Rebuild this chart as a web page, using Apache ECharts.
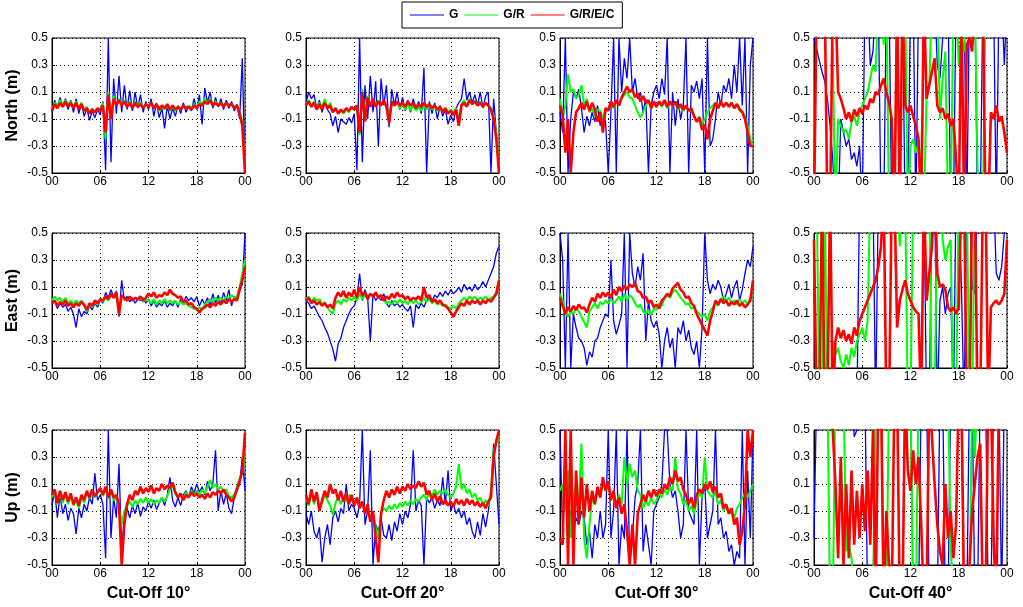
<!DOCTYPE html>
<html><head><meta charset="utf-8">
<script src="https://cdn.jsdelivr.net/npm/echarts@6/dist/echarts.min.js"></script>
<style>html,body{margin:0;padding:0;background:#fff}#c{width:1023px;height:607px}</style>
</head><body><div id="c"></div>
<script>
// ---- labels ----
const xTickLabels = ['00', '06', '12', '18', '00'];
const rowNames = ['North (m)', 'East (m)', 'Up (m)'];
const colTitles = ['Cut-Off 10°', 'Cut-Off 20°', 'Cut-Off 30°', 'Cut-Off 40°'];
const seriesNames = ['G', 'G/R', 'G/R/E/C'];
// samples every 20 minutes from 00:00 to 24:00 (73 samples), values in metres
const sampleStepHours = 1 / 3;

// ---- North ----
const north10_G    = [-0.05,0.04,-0.02,0.06,-0.01,0.05,-0.03,0.04,-0.05, 0.05,-0.06,0.02,-0.08,-0.02,-0.11,-0.04,-0.09,-0.03, -0.07,0.03,-0.48,0.5,-0.42,0.2,-0.06,0.22,-0.05, 0.15,-0.03,0.11,-0.04,0.1,-0.02,0.08,-0.05,0.03, -0.03,0.05,-0.08,0.02,-0.09,-0.02,-0.17,0.0,-0.1, -0.02,-0.08,0.0,-0.06,0.02,-0.05,0.0,-0.04,0.05, -0.03,0.08,-0.14,0.13,0.02,0.1,-0.02,0.06,-0.01, 0.05,-0.03,0.04,-0.02,0.03,-0.04,0.01,-0.1,0.35, -0.5];
const north10_GR   = [-0.03,0.02,0.0,0.04,0.0,0.04,0.01,0.03,-0.01, 0.03,-0.02,0.02,-0.04,-0.01,-0.06,-0.02,-0.05,-0.03, -0.03,0.02,-0.25,0.1,-0.08,0.07,0.0,0.05,0.01, 0.04,0.0,0.03,-0.01,0.03,0.0,0.02,-0.02,0.01, 0.0,0.02,-0.02,0.01,-0.04,-0.01,-0.03,0.0,-0.04, -0.01,-0.04,-0.01,-0.03,0.0,-0.02,0.0,-0.02,0.01, -0.01,0.03,0.01,0.05,0.02,0.05,0.01,0.03,0.01, 0.02,0.0,0.02,0.0,0.01,-0.01,0.0,-0.05,-0.12, -0.45];
const north10_GREC = [-0.04,0.01,-0.02,0.02,-0.01,0.03,-0.01,0.02,-0.02, 0.02,-0.03,0.01,-0.04,-0.02,-0.06,-0.03,-0.05,-0.02, -0.04,0.0,-0.2,0.08,-0.1,0.05,0.0,0.04,0.0, 0.03,-0.01,0.02,-0.02,0.02,-0.01,0.01,-0.02,0.01, -0.01,0.02,-0.02,0.01,-0.03,0.0,-0.02,0.01,-0.03, 0.0,-0.03,-0.01,-0.03,0.0,-0.02,-0.01,-0.03,0.0, -0.02,0.01,0.0,0.03,0.01,0.04,0.0,0.02,0.0, 0.02,-0.01,0.02,0.0,0.01,-0.02,0.0,-0.06,-0.15, -0.5];

const north20_G    = [0.02,0.1,0.05,0.08,-0.02,0.04,-0.05,0.03,-0.03, -0.06,-0.15,-0.08,-0.2,-0.1,-0.12,-0.14,-0.09,-0.13, -0.06,-0.48,0.5,-0.42,0.15,-0.1,0.22,-0.05,0.18, -0.3,0.2,0.0,0.15,-0.16,0.12,0.0,0.1,-0.03, 0.06,-0.04,0.04,-0.05,0.05,-0.02,0.03,-0.06,0.28, -0.5,0.03,-0.06,0.02,-0.1,0.0,-0.08,-0.03,-0.14, -0.07,-0.12,-0.02,0.02,0.05,0.2,0.04,0.1,0.02, 0.08,0.0,0.1,-0.02,0.07,0.1,-0.5,0.05,-0.2, -0.5];
const north20_GR   = [0.01,0.04,0.0,0.03,-0.02,0.02,-0.01,0.05,-0.02, 0.02,-0.04,-0.02,-0.06,-0.04,-0.06,-0.03,-0.05,-0.02, -0.03,0.0,-0.22,0.12,-0.1,0.07,0.0,0.05,0.0, 0.04,0.0,0.04,-0.01,-0.08,0.02,0.0,0.02,-0.02, 0.01,-0.03,0.01,-0.04,0.0,-0.04,-0.01,-0.04,0.0, -0.03,0.0,-0.03,-0.01,-0.04,-0.01,-0.04,-0.02,-0.05, -0.03,-0.05,-0.02,-0.1,0.01,0.04,0.0,0.05,0.01, 0.04,0.0,0.03,-0.01,0.02,0.0,-0.02,-0.08,-0.2, -0.45];
const north20_GREC = [0.0,0.03,-0.01,0.02,-0.03,0.01,-0.03,0.02,-0.02, 0.0,-0.05,-0.02,-0.06,-0.03,-0.05,-0.02,-0.04,-0.01, -0.03,0.0,-0.2,0.1,-0.12,0.06,-0.01,0.05,-0.01, 0.03,0.0,0.04,-0.01,-0.13,0.03,0.0,0.03,0.0, 0.02,-0.01,0.03,0.0,0.02,-0.02,0.01,-0.01,0.02, -0.01,0.01,-0.02,0.0,-0.03,-0.01,-0.05,-0.02,-0.06, -0.04,-0.07,-0.03,-0.15,0.0,0.02,-0.01,0.04,0.01, 0.03,0.0,0.02,-0.01,0.02,0.0,-0.03,-0.1,-0.25, -0.5];

const north30_G    = [-0.05,-0.2,0.5,-0.5,-0.1,0.1,0.05,0.12,-0.02, -0.2,-0.08,-0.15,-0.05,-0.12,0.0,-0.15,-0.08,-0.12, -0.5,-0.05,0.5,-0.5,0.5,0.1,0.35,0.2,0.5, 0.1,0.2,0.05,0.1,-0.05,0.05,-0.5,0.0,0.1, 0.15,0.05,0.2,0.08,0.5,-0.5,0.1,-0.15,0.05, -0.1,0.0,0.5,-0.5,0.15,0.1,0.18,0.05,0.2, -0.5,0.5,-0.3,-0.25,-0.1,0.1,0.0,0.15,0.1, 0.2,0.05,0.3,0.1,0.5,0.0,0.5,-0.5,0.3, 0.5];
const north30_GR   = [0.05,-0.1,0.0,0.23,0.1,0.12,0.05,0.08,0.15, 0.0,0.05,-0.05,-0.02,-0.08,-0.03,-0.04,-0.1,-0.02, -0.03,0.02,-0.02,0.03,0.0,0.05,0.08,0.1,0.06, 0.05,0.0,-0.05,-0.09,-0.05,0.0,0.03,-0.01,0.02, 0.0,0.03,-0.01,0.03,-0.02,0.02,0.0,0.02,-0.03, -0.01,-0.04,-0.01,-0.03,-0.04,-0.07,-0.12,-0.08,-0.14, -0.1,-0.05,-0.02,0.0,0.02,-0.02,0.03,-0.01,0.02, 0.0,0.02,-0.02,0.01,-0.02,-0.04,-0.08,-0.15,-0.25, -0.3];
const north30_GREC = [0.0,-0.06,-0.35,-0.1,-0.5,-0.2,-0.05,-0.02,0.02, -0.03,0.03,-0.04,0.02,-0.03,-0.12,-0.05,-0.2,-0.02, -0.04,0.03,-0.01,0.04,0.0,0.06,0.1,0.14,0.1, 0.12,0.06,0.09,0.03,0.07,0.02,0.04,-0.02,0.03, -0.01,0.03,0.0,0.04,-0.01,0.03,0.0,0.03,-0.02, 0.01,-0.03,0.0,-0.04,-0.02,-0.08,-0.12,-0.09,-0.18, -0.14,-0.25,-0.1,-0.04,0.02,-0.02,0.03,-0.01,0.02, -0.01,0.02,-0.02,0.01,-0.03,-0.05,-0.1,-0.2,-0.3, -0.3];

const north40_G    = [0.5,0.42,0.33,0.25,0.18,0.05,-0.15,-0.4,-0.8, -0.8,-0.1,-0.2,-0.3,-0.25,-0.4,-0.35,-0.45,-0.3, -0.8,0.8,0.8,0.3,0.4,0.8,0.8,-0.8,-0.8, 0.8,0.8,-0.8,-0.8,0.8,0.8,0.8,-0.8,-0.8, 0.8,0.8,-0.8,0.8,0.8,0.8,0.8,0.8,0.8, 0.8,0.3,0.2,0.5,0.8,0.8,-0.8,-0.8,0.8, 0.8,0.8,0.8,-0.8,0.8,0.8,0.8,-0.8,-0.8, 0.8,0.8,0.8,0.8,0.8,-0.8,0.8,0.8,0.3, 0.8];
const north40_GR   = [0.8,0.8,0.8,0.8,0.8,0.8,0.8,0.4,-0.8, -0.1,-0.15,-0.2,-0.18,-0.25,-0.12,-0.08,-0.15,-0.05, 0.0,0.05,0.1,0.2,0.3,0.25,0.8,0.8,0.45, 0.8,-0.8,-0.8,-0.8,0.8,0.8,0.8,0.8,-0.8, -0.3,-0.25,-0.35,-0.28,-0.45,-0.8,0.1,0.15,0.8, 0.8,0.8,-0.1,0.2,0.4,-0.8,-0.8,0.8,0.8, 0.3,0.5,0.4,0.8,0.8,0.8,0.8,-0.45,-0.8, -0.8,0.8,0.8,0.8,0.8,0.8,0.8,0.8,0.8, 0.8];
const north40_GREC = [-0.8,0.8,0.8,0.8,0.8,-0.8,-0.8,0.8,0.8, 0.1,0.05,-0.02,-0.1,-0.05,-0.12,-0.03,-0.08,-0.02, -0.06,0.0,-0.03,0.05,0.02,0.1,0.08,0.15,0.2, 0.1,0.02,-0.1,-0.8,0.8,-0.8,0.8,0.0,-0.05, 0.0,-0.08,-0.15,-0.25,-0.8,0.8,0.05,0.15,0.25, 0.35,0.0,-0.05,-0.02,-0.1,-0.06,-0.15,-0.1,-0.4, -0.8,0.8,-0.8,0.45,0.5,0.4,0.8,0.8,0.8, 0.8,-0.8,-0.8,-0.05,-0.1,0.0,-0.12,-0.08,-0.2, -0.35];

// ---- East ----
const east10_G    = [-0.03,0.0,-0.06,-0.02,-0.05,-0.03,-0.08,-0.05,-0.1, -0.2,-0.06,-0.12,-0.08,-0.1,-0.04,-0.07,-0.02,-0.05, 0.0,-0.02,0.06,0.02,0.08,0.03,0.07,-0.12,0.15, 0.0,0.03,-0.01,0.02,-0.02,0.01,0.0,0.02,-0.02, 0.01,-0.04,0.0,-0.05,-0.02,-0.04,0.0,-0.05,-0.02, -0.04,0.0,-0.05,0.01,-0.02,0.03,0.0,0.02,-0.01, 0.03,-0.04,0.01,-0.03,0.02,-0.04,0.05,-0.02,0.04, -0.03,0.06,0.0,0.08,-0.04,0.03,0.0,0.07,0.12, 0.5];
const east10_GR   = [0.0,0.03,0.0,0.02,-0.01,0.02,-0.02,0.0,-0.03, 0.0,-0.02,0.0,-0.04,-0.08,-0.03,-0.05,-0.01,-0.03, 0.0,-0.01,0.02,0.0,0.04,0.02,0.05,-0.08,0.03, 0.02,0.0,0.03,0.0,0.02,0.01,0.02,-0.01,0.01, 0.0,-0.02,0.01,-0.03,0.0,-0.02,0.01,-0.02,0.0, -0.02,0.0,-0.03,-0.01,-0.03,-0.02,-0.04,-0.05,-0.06, -0.07,-0.05,-0.07,-0.03,-0.01,0.01,-0.01,0.02,0.0, 0.02,0.0,0.03,0.01,0.04,0.02,0.03,0.1,0.2, 0.3];
const east10_GREC = [-0.02,0.0,-0.04,-0.01,-0.03,0.0,-0.04,-0.02,-0.05, -0.02,-0.04,-0.01,-0.03,-0.07,-0.02,-0.04,0.0,-0.02, 0.01,0.0,0.03,0.01,0.05,0.02,0.06,-0.1,0.04, 0.02,0.0,0.03,0.0,0.02,0.01,0.03,0.0,0.02, 0.05,0.03,0.06,0.02,0.04,0.03,0.06,0.04,0.08, 0.05,0.04,0.02,0.03,-0.01,0.0,-0.03,-0.02,-0.05, -0.06,-0.09,-0.06,-0.05,-0.03,-0.05,-0.02,-0.04,-0.01, -0.03,0.0,-0.02,0.01,-0.01,0.01,0.0,0.08,0.15, 0.25];

const east20_G    = [0.0,-0.02,-0.06,-0.04,-0.08,-0.12,-0.15,-0.2,-0.24, -0.3,-0.36,-0.45,-0.32,-0.28,-0.2,-0.15,-0.1,-0.06, -0.04,0.02,0.2,0.0,0.08,0.02,-0.3,0.05,0.0, 0.03,0.0,0.05,-0.02,-0.05,0.0,-0.04,-0.02,-0.05, -0.03,-0.06,-0.08,-0.04,-0.2,-0.03,-0.06,-0.02,-0.05, 0.0,0.02,-0.01,0.04,0.02,0.06,0.03,0.07,0.04, 0.08,0.05,0.07,0.1,0.06,0.12,0.08,0.1,0.07, 0.12,0.08,0.1,0.14,0.1,0.15,0.2,0.25,0.35, 0.4];
const east20_GR   = [0.01,0.03,-0.01,0.02,0.0,0.01,-0.03,-0.01,-0.05, -0.08,-0.1,-0.02,0.0,-0.03,0.01,-0.01,0.02,0.0, 0.03,0.0,0.05,0.01,0.04,0.02,0.05,0.03,0.05, 0.03,0.04,0.0,-0.02,-0.01,-0.03,0.0,-0.02,0.01, -0.02,0.0,-0.03,0.01,-0.02,0.0,-0.03,-0.01,0.02, -0.01,0.01,-0.02,0.0,-0.03,-0.02,-0.04,-0.03,-0.05, -0.06,-0.04,-0.06,-0.02,0.0,0.02,0.0,0.03,0.01, 0.03,0.0,0.02,0.01,0.03,0.0,0.02,0.03,0.06, 0.15];
const east20_GREC = [0.0,0.02,-0.02,0.0,-0.03,-0.01,-0.04,-0.02,-0.05, -0.03,-0.06,0.02,0.06,0.03,0.07,0.02,0.06,0.03, 0.08,0.02,0.1,0.04,0.06,0.01,0.05,0.03,0.06, 0.02,0.04,0.0,0.03,0.01,0.05,0.02,0.06,0.03, 0.04,0.01,0.03,0.0,0.02,0.01,0.03,0.0,0.1, 0.02,0.04,-0.01,0.01,-0.02,0.0,-0.03,-0.04,-0.06, -0.09,-0.12,-0.08,-0.05,-0.02,-0.04,0.0,-0.03,0.0, -0.02,0.0,-0.03,0.0,-0.02,0.01,-0.01,0.02,0.05, 0.15];

const east30_G    = [0.5,0.3,-0.5,0.5,-0.5,-0.1,-0.2,-0.28,-0.3, -0.35,-0.48,-0.38,-0.42,-0.3,-0.28,-0.2,-0.15,-0.1, -0.12,0.3,-0.15,-0.25,-0.18,-0.1,0.5,-0.5,0.5, 0.2,0.1,0.25,0.15,0.35,-0.3,0.0,-0.15,-0.2, -0.15,-0.25,-0.5,-0.3,-0.2,-0.35,-0.28,-0.5,-0.2, -0.25,-0.15,-0.3,-0.22,-0.35,-0.4,-0.3,-0.5,-0.2, 0.5,0.15,0.05,0.12,0.08,0.15,0.1,0.0,0.05, 0.12,0.02,0.1,0.15,0.0,0.08,0.2,0.3,0.25, 0.4];
const east30_GR   = [0.05,0.0,-0.08,-0.12,-0.08,-0.1,-0.05,-0.08,-0.12, -0.16,-0.2,-0.08,-0.05,-0.02,-0.06,-0.01,-0.03,0.0, -0.02,0.01,-0.02,0.0,0.03,-0.01,0.05,0.0,0.04, 0.02,-0.02,-0.05,-0.03,-0.08,-0.1,-0.07,-0.11,-0.06, -0.07,-0.02,-0.04,0.02,0.04,0.02,0.06,0.08,0.05, 0.02,0.0,-0.03,-0.02,-0.06,-0.05,-0.08,-0.1,-0.12, -0.1,-0.15,-0.08,-0.05,-0.02,-0.04,0.01,0.03,0.0, 0.02,-0.02,0.0,-0.03,0.01,-0.02,0.0,-0.03,0.02, 0.05];
const east30_GREC = [0.02,-0.04,-0.1,-0.05,-0.08,-0.04,-0.07,-0.03,-0.06, -0.05,-0.09,-0.03,0.02,-0.01,0.05,0.02,0.06,0.03, 0.06,0.02,0.08,0.04,0.1,0.07,0.11,0.08,0.12, 0.1,0.13,0.07,0.06,0.02,0.03,-0.02,0.0,-0.05, -0.03,-0.06,0.0,0.02,0.05,0.03,0.09,0.11,0.13, 0.08,0.06,0.02,0.03,-0.02,-0.04,-0.1,-0.14,-0.18, -0.22,-0.26,-0.15,-0.08,0.0,-0.03,0.01,-0.02,0.0, -0.04,-0.01,-0.03,0.0,-0.04,-0.02,-0.05,-0.03,0.0, 0.15];

const east40_G    = [0.1,-0.8,-0.8,-0.8,-0.8,-0.8,-0.8,-0.8,-0.8, -0.8,-0.8,-0.8,-0.8,-0.8,-0.8,-0.8,-0.8,0.8, 0.8,0.8,0.5,0.8,0.8,-0.8,0.8,0.8,0.8, 0.8,0.8,0.8,0.8,0.8,0.8,0.5,0.8,0.8, 0.8,0.8,0.8,0.8,0.8,0.8,-0.8,-0.8,0.8, 0.8,-0.8,0.0,0.1,-0.1,0.05,0.1,-0.8,0.8, 0.8,0.1,-0.8,0.8,0.8,0.1,0.05,0.8,0.8, 0.8,0.8,0.8,0.8,0.8,0.2,0.15,0.25,0.5, 0.8];
const east40_GR   = [0.8,0.8,-0.8,-0.8,0.8,-0.8,-0.8,-0.3,-0.4, -0.35,-0.45,-0.5,-0.4,-0.48,-0.35,-0.42,-0.3,-0.25, -0.2,-0.3,-0.15,0.8,0.8,0.8,0.8,0.8,0.8, 0.8,0.8,0.8,0.8,0.8,0.4,0.8,0.8,-0.8, -0.8,0.8,0.8,0.8,0.8,0.8,0.8,0.8,-0.8, -0.8,0.8,0.8,0.45,0.3,0.4,0.45,-0.8,-0.8, 0.8,0.8,0.8,0.8,-0.8,-0.8,0.8,0.8,0.8, 0.8,0.8,0.8,0.8,0.8,0.8,0.8,0.8,0.8, 0.8];
const east40_GREC = [0.45,-0.8,-0.8,0.8,-0.8,-0.8,0.8,-0.8,-0.3, -0.2,-0.28,-0.22,-0.3,-0.25,-0.32,-0.2,-0.26,-0.15, -0.1,-0.05,0.0,0.05,0.1,0.15,0.25,0.4,0.8, -0.8,-0.8,0.8,0.8,-0.2,0.0,0.08,0.15,0.05, 0.0,-0.05,-0.08,-0.1,-0.8,0.8,0.0,0.2,0.4, 0.8,0.2,0.1,0.12,0.08,-0.05,-0.08,-0.05,-0.1, -0.05,0.8,0.8,-0.8,-0.8,0.8,0.8,-0.8,-0.8, 0.8,0.8,-0.8,-0.05,-0.02,0.0,-0.03,0.0,0.05, 0.45];

// ---- Up ----
const up10_G    = [-0.06,0.05,-0.15,0.02,-0.12,-0.05,-0.17,-0.08,-0.12, -0.27,-0.08,-0.15,-0.05,-0.1,0.0,-0.05,0.18,-0.02, 0.02,-0.05,-0.45,0.5,-0.3,0.0,-0.15,0.25,-0.4, -0.12,-0.08,-0.15,-0.06,-0.12,-0.04,-0.14,-0.07,-0.1, -0.03,-0.08,-0.02,-0.09,-0.04,0.0,-0.06,0.02,0.15, -0.02,-0.07,0.0,-0.06,0.02,0.05,0.0,0.08,0.03, 0.1,0.04,0.08,0.02,0.12,0.05,0.1,0.35,-0.1, 0.05,-0.05,0.03,-0.08,-0.12,0.0,0.05,0.1,0.3, 0.05];
const up10_GR   = [0.0,0.04,-0.05,0.03,-0.04,0.02,-0.05,0.01,-0.06, -0.02,-0.08,0.0,-0.04,0.04,-0.01,0.05,0.0,0.03, 0.06,0.01,0.07,-0.01,0.05,-0.02,0.0,-0.08,-0.2, -0.1,-0.06,-0.03,-0.07,-0.02,-0.05,-0.01,-0.04,0.0, -0.04,-0.01,-0.05,-0.02,-0.04,0.0,-0.03,0.01,0.06, 0.08,0.03,0.0,0.03,-0.01,0.04,0.01,0.05,0.02, 0.05,0.02,0.06,0.03,0.08,0.13,0.07,0.1,0.06, 0.08,0.04,0.06,0.01,0.0,0.02,0.08,0.14,0.18, 0.35];
const up10_GREC = [0.02,0.06,-0.04,0.05,-0.02,0.04,-0.03,0.03,-0.05, 0.0,-0.06,0.02,-0.02,0.05,0.0,0.06,0.01,0.04, 0.07,0.02,0.08,0.0,0.06,0.0,0.02,-0.05,-0.5, -0.2,-0.05,0.02,-0.02,0.05,0.02,0.08,0.03,0.07, 0.04,0.09,0.03,0.07,0.05,0.1,0.06,0.09,0.07, 0.11,0.04,0.0,0.03,-0.02,0.02,0.0,0.04,0.01, 0.03,0.0,0.02,-0.01,0.03,0.0,0.04,0.02,0.05, 0.03,0.06,0.02,0.0,-0.03,0.0,0.06,0.12,0.2, 0.48];

const up20_G    = [-0.12,-0.2,-0.1,-0.25,-0.3,-0.22,-0.48,-0.3,-0.2, -0.35,-0.15,-0.1,-0.18,-0.08,-0.12,0.1,-0.1,-0.05, -0.08,-0.15,-0.05,0.5,-0.2,-0.1,0.35,-0.5,-0.2, -0.25,-0.15,-0.28,-0.3,-0.2,-0.32,-0.18,-0.25,-0.12, -0.2,-0.1,-0.15,-0.05,0.35,-0.1,-0.02,-0.06,-0.5, 0.0,-0.04,0.0,-0.08,-0.02,-0.06,0.15,-0.05,0.2, -0.1,-0.05,-0.12,-0.08,-0.15,-0.1,-0.2,-0.15,-0.25, -0.3,-0.18,-0.28,-0.12,-0.22,-0.1,0.05,0.4,0.1, -0.2];
const up20_GR   = [0.0,-0.06,0.04,-0.05,0.02,-0.08,-0.04,0.02,-0.02, -0.06,-0.13,-0.04,0.0,-0.05,0.01,-0.03,0.02,-0.02, -0.05,-0.02,-0.07,-0.04,-0.1,-0.06,-0.18,-0.12,-0.22, -0.3,-0.12,-0.08,-0.1,-0.06,-0.09,-0.05,-0.08,-0.04, -0.07,-0.03,-0.06,-0.02,-0.05,-0.01,-0.03,0.0,0.02, -0.02,0.04,0.01,0.06,0.02,0.05,0.03,0.06,0.02, 0.0,0.03,0.08,0.25,0.06,0.1,0.03,0.06,0.0, 0.03,-0.02,0.0,-0.05,-0.02,-0.06,0.05,0.35,0.4, 0.45];
const up20_GREC = [0.02,-0.05,0.06,-0.03,0.04,-0.1,-0.02,0.05,0.0, 0.1,0.03,0.06,-0.02,0.05,-0.03,0.03,-0.05,0.02, -0.06,0.0,-0.08,-0.03,-0.12,-0.05,-0.18,-0.1,-0.3, -0.48,-0.12,-0.02,0.05,0.0,0.06,0.02,0.08,0.03, 0.08,0.05,0.1,0.06,0.09,0.07,0.12,0.08,0.11, 0.02,0.05,-0.02,0.03,-0.03,0.01,-0.05,-0.02,-0.06, -0.03,-0.07,-0.01,-0.05,-0.02,-0.06,-0.01,-0.05,-0.02, -0.06,-0.03,-0.07,-0.04,-0.08,-0.03,0.0,0.3,0.42, 0.5];

const up30_G    = [0.5,-0.3,0.3,-0.2,-0.1,-0.25,-0.15,-0.2,-0.1, -0.15,-0.35,-0.25,-0.45,-0.2,-0.3,-0.1,-0.3,-0.2, 0.5,-0.3,-0.1,0.5,-0.5,-0.2,-0.3,0.5,-0.5, -0.3,0.0,0.1,0.5,-0.4,-0.2,-0.35,-0.5,-0.1, -0.05,0.0,0.1,0.5,0.5,0.1,0.0,0.05,-0.1, -0.3,-0.2,0.5,-0.1,-0.15,-0.2,0.5,-0.5,0.0, 0.1,-0.3,-0.2,-0.1,0.5,-0.2,-0.15,-0.3,-0.25, -0.4,-0.35,-0.5,-0.4,-0.45,0.5,-0.5,0.2,-0.3, 0.5];
const up30_GR   = [0.05,0.1,-0.1,0.2,-0.3,0.0,0.1,-0.05,0.4, -0.3,-0.45,-0.2,0.0,-0.05,0.05,0.0,0.1,0.05, 0.08,0.0,0.03,-0.05,0.02,-0.05,0.3,0.1,0.25, 0.15,0.2,0.05,0.02,-0.08,-0.02,-0.06,0.0,-0.05, -0.02,0.03,0.0,0.06,0.02,0.08,0.05,0.3,0.06, 0.03,-0.05,-0.02,-0.1,-0.06,-0.12,-0.02,0.03,0.0, 0.3,0.05,0.02,0.0,0.04,-0.05,-0.02,-0.1,-0.06, -0.12,-0.1,-0.15,-0.08,-0.05,0.0,0.03,0.0,0.05, 0.1];
const up30_GREC = [-0.3,-0.35,0.5,-0.5,0.5,-0.5,0.2,-0.2,0.15, -0.15,0.1,-0.1,0.05,-0.05,0.08,0.0,0.15,0.05, 0.12,-0.02,0.05,-0.08,0.0,-0.12,-0.05,-0.25,-0.5, -0.2,-0.5,-0.12,-0.05,0.02,-0.03,0.05,0.0,0.06, 0.01,0.06,0.03,0.1,0.06,0.15,0.1,0.2,0.12, 0.15,0.06,0.02,-0.05,0.0,-0.08,0.02,0.06,0.03, 0.1,0.06,0.12,0.04,0.08,0.0,0.03,-0.08,-0.05, -0.12,-0.08,-0.2,-0.15,-0.35,-0.25,-0.05,0.5,0.3, 0.5];

const up40_G    = [-0.3,0.8,0.8,0.8,0.8,0.8,0.8,0.8,0.8, 0.8,0.8,0.8,0.8,0.8,0.8,0.45,0.5,0.8, 0.8,0.8,-0.8,-0.8,-0.8,0.8,0.8,0.8,0.8, 0.8,0.8,0.8,0.8,0.8,-0.8,-0.8,0.8,0.8, 0.8,-0.8,-0.8,-0.8,0.8,0.8,0.8,-0.8,-0.8, -0.8,-0.8,0.8,0.8,-0.8,-0.8,0.8,0.8,0.8, 0.8,0.5,-0.8,-0.8,0.8,0.8,-0.8,-0.8,0.8, 0.8,0.8,-0.8,-0.8,0.8,0.8,0.8,-0.8,0.8, 0.8];
const up40_GR   = [0.8,0.8,0.8,0.8,0.8,0.8,-0.8,-0.8,0.8, 0.8,0.8,0.8,-0.4,-0.35,-0.45,-0.8,-0.8,-0.8, -0.8,-0.8,-0.8,-0.8,-0.8,0.8,0.8,0.8,-0.8, -0.8,0.8,0.8,0.8,0.8,0.8,0.8,0.8,0.8, 0.8,-0.8,-0.8,0.8,0.8,0.8,0.8,0.8,0.8, 0.8,0.8,0.8,0.8,0.8,0.8,-0.35,-0.8,-0.8, -0.8,-0.8,-0.8,-0.8,-0.8,0.8,0.3,0.8,0.8, 0.8,0.8,0.8,0.8,0.8,0.8,0.8,0.8,0.8, 0.8];
const up40_GREC = [0.8,0.8,0.8,0.8,0.8,0.8,0.8,0.5,0.1, -0.45,0.3,-0.5,0.1,-0.45,0.2,-0.35,0.05,-0.3, 0.1,-0.25,0.2,-0.35,0.5,-0.8,0.8,0.8,-0.8, -0.1,-0.5,-0.8,0.8,0.8,-0.8,-0.8,0.8,0.2, 0.05,0.35,0.1,0.3,-0.2,-0.8,-0.8,0.8,0.45, 0.1,-0.2,-0.4,-0.5,0.1,-0.3,-0.1,-0.45,-0.2, 0.8,0.8,-0.8,-0.8,-0.5,-0.1,0.1,0.3,0.4, -0.8,-0.8,0.8,0.8,-0.3,-0.8,0.8,0.8,0.8, 0.8];

// panels in reading order (row: North/East/Up, column: cut-off 10..40)
const panels = [
  [north10_G, north10_GR, north10_GREC], [north20_G, north20_GR, north20_GREC], [north30_G, north30_GR, north30_GREC], [north40_G, north40_GR, north40_GREC],
  [east10_G, east10_GR, east10_GREC], [east20_G, east20_GR, east20_GREC], [east30_G, east30_GR, east30_GREC], [east40_G, east40_GR, east40_GREC],
  [up10_G, up10_GR, up10_GREC], [up20_G, up20_GR, up20_GREC], [up30_G, up30_GR, up30_GREC], [up40_G, up40_GR, up40_GREC]
];

const colLeft = [52, 306, 560, 814];
const rowTop = [38, 233, 430];
const plotW = 193, plotH = 135;
const seriesColors = ['#0000ff', '#00ff00', '#ff0000'];
const seriesWidths = [1.3, 2, 2.6];
const FONT = 'Liberation Sans, Arial, sans-serif';

const grids = [], xAxes = [], yAxes = [], series = [];
for (let r = 0; r < 3; r++) {
  for (let c = 0; c < 4; c++) {
    const k = r * 4 + c;
    grids.push({left: colLeft[c], top: rowTop[r], width: plotW, height: plotH,
      show: true, borderColor: '#000', borderWidth: 1, backgroundColor: '#fff', containLabel: false});
    xAxes.push({gridIndex: k, type: 'value', min: 0, max: 24, interval: 6,
      axisLine: {show: true, onZero: false, lineStyle: {color: '#000', width: 1}},
      axisTick: {show: true, inside: true, length: 3, lineStyle: {color: '#000'}},
      axisLabel: {color: '#000', fontSize: 12, fontFamily: FONT, margin: 3,
        formatter: v => xTickLabels[Math.round(v / 6)]},
      splitLine: {show: true, lineStyle: {color: '#000', width: 1, type: [1, 3]}},
      name: r === 2 ? colTitles[c] : '', nameLocation: 'middle', nameGap: 21,
      nameTextStyle: {color: '#000', fontSize: 16, fontWeight: 'bold', fontFamily: FONT}});
    yAxes.push({gridIndex: k, type: 'value', min: -0.5, max: 0.5, interval: 0.2,
      axisLine: {show: true, onZero: false, lineStyle: {color: '#000', width: 1}},
      axisTick: {show: true, inside: true, length: 3, lineStyle: {color: '#000'}},
      axisLabel: {color: '#000', fontSize: 12, fontFamily: FONT, margin: 4,
        formatter: v => (Math.round(v * 10) / 10).toFixed(1)},
      splitLine: {show: true, lineStyle: {color: '#000', width: 1, type: [1, 3]}},
      name: c === 0 ? rowNames[r] : '', nameLocation: 'middle', nameGap: 31,
      nameTextStyle: {color: '#000', fontSize: 16, fontWeight: 'bold', fontFamily: FONT}});
    panels[k].forEach((vals, s) => {
      series.push({type: 'line', name: seriesNames[s], xAxisIndex: k, yAxisIndex: k,
        data: vals.map((v, i) => [i * sampleStepHours, v]),
        showSymbol: false, symbol: 'none', clip: true, silent: true,
        lineStyle: {color: seriesColors[s], width: seriesWidths[s], join: 'bevel'},
        itemStyle: {color: seriesColors[s]}});
    });
  }
}

const chart = echarts.init(document.getElementById('c'), null, {renderer: 'canvas'});
chart.setOption({
  animation: false,
  backgroundColor: '#fff',
  legend: {data: seriesNames.map(n => ({name: n, icon: 'rect'})), left: 402, top: 2,
    padding: [7, 8, 7, 8], itemGap: 6, itemWidth: 34, itemHeight: 1,
    borderColor: '#000', borderWidth: 1, backgroundColor: '#fff',
    textStyle: {color: '#000', fontSize: 12, fontWeight: 'bold', fontFamily: FONT}},
  grid: grids, xAxis: xAxes, yAxis: yAxes, series: series
});
</script>
</body></html>
